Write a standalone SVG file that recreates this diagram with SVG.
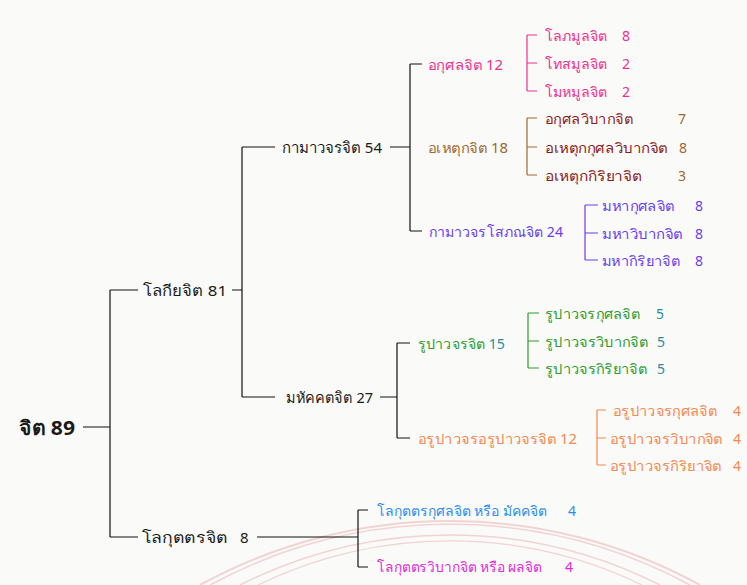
<svg xmlns="http://www.w3.org/2000/svg" width="747" height="585" viewBox="0 0 747 585">
<style>
text{font-family:Tahoma,"Noto Sans","DejaVu Sans",sans-serif;font-size:14px;dominant-baseline:central}
.b{font-size:15px}
.k{fill:#1a1a1a}
.pk{fill:#ef2f8c}
.br{fill:#a0692e}
.dr{fill:#8b1a1a}
.pu{fill:#6a3cf0}
.gr{fill:#2e9b2e}
.tl{fill:#2e8b9b}
.or{fill:#f5874f}
.bl{fill:#2b8cf0}
.mg{fill:#e02ad6}
.ln{fill:none;stroke:#111;stroke-width:1.2}
</style>
<rect width="747" height="585" fill="#fafbf9"/>
<g id="watermark" fill="none" stroke="#eec3c3" opacity="0.7">
<path d="M200 585 A520 520 0 0 1 700 585" stroke-width="2"/>
<path d="M210 585 A505 505 0 0 1 690 585" stroke-width="1.5"/>
<path d="M240 585 A465 465 0 0 1 660 585" stroke-width="1.5"/>
<path d="M258 585 A440 440 0 0 1 642 585" stroke-width="1.2"/>
</g>
<g id="connectors">
<path class="ln" d="M83 427H110M110 290V537M110 290H138M110 537H138" stroke-width="2.4"/>
<path class="ln" d="M232 290H242M242 147V397M242 147H275M242 397H275"/>
<path class="ln" d="M390 147H410M410 64V231M410 64H422M410 231H422"/>
<path class="ln" d="M380 397H397M397 343V438M397 343H410M397 438H410" stroke="#555"/>
<path fill="none" stroke="#ef2f8c" stroke-width="1.2" d="M527 35V91M527 35H537M527 63H537M527 91H537"/>
<path fill="none" stroke="#a0692e" stroke-width="1.2" d="M527 118V175M527 118H537M527 147H537M527 175H537"/>
<path fill="none" stroke="#6a3cf0" stroke-width="1.2" d="M585 205V260M585 205H598M585 233H598M585 260H598"/>
<path fill="none" stroke="#2e9b2e" stroke-width="1.2" d="M528 313V368M528 313H539M528 341H539M528 368H539"/>
<path fill="none" stroke="#f5874f" stroke-width="1.2" d="M597 410V465M597 410H606M597 438H606M597 465H606"/>
<path class="ln" d="M257 537H358M358 510V567M358 510H368M358 567H368"/>
</g>
<g id="n-root"><text x="19" y="427" class="k" style="font-size:20px;font-weight:bold" textLength="56" lengthAdjust="spacingAndGlyphs">จิต 89</text></g>
<g id="n-lokiya"><text x="143" y="290" class="k b" textLength="84" lengthAdjust="spacingAndGlyphs">โลกียจิต 81</text></g>
<g id="n-kama"><text x="282" y="147" class="k b" textLength="100" lengthAdjust="spacingAndGlyphs">กามาวจรจิต 54</text></g>
<g id="n-mahaggata"><text x="286" y="397" class="k b" textLength="87" lengthAdjust="spacingAndGlyphs">มหัคคตจิต 27</text></g>
<g id="n-lokuttara"><text x="142" y="537" class="k b" textLength="86" lengthAdjust="spacingAndGlyphs">โลกุตตรจิต</text><text x="240" y="537" class="k b">8</text></g>
<g id="n-akusala"><text x="428" y="64" class="pk" textLength="75" lengthAdjust="spacingAndGlyphs">อกุศลจิต 12</text></g>
<g id="n-lobha"><text x="545" y="35" class="pk" textLength="62" lengthAdjust="spacingAndGlyphs">โลภมูลจิต</text><text x="622" y="35" class="pk">8</text></g>
<g id="n-dosa"><text x="545" y="63" class="pk" textLength="62" lengthAdjust="spacingAndGlyphs">โทสมูลจิต</text><text x="622" y="63" class="pk">2</text></g>
<g id="n-moha"><text x="545" y="91" class="pk" textLength="62" lengthAdjust="spacingAndGlyphs">โมหมูลจิต</text><text x="622" y="91" class="pk">2</text></g>
<g id="n-ahetuka"><text x="428" y="147" class="br" textLength="80" lengthAdjust="spacingAndGlyphs">อเหตุกจิต 18</text></g>
<g id="n-akv"><text x="545" y="118" class="dr" textLength="88" lengthAdjust="spacingAndGlyphs">อกุศลวิบากจิต</text><text x="678" y="118" class="br">7</text></g>
<g id="n-ahkv"><text x="545" y="147" class="dr" textLength="123" lengthAdjust="spacingAndGlyphs">อเหตุกกุศลวิบากจิต</text><text x="679" y="147" class="br">8</text></g>
<g id="n-ahkr"><text x="545" y="175" class="dr" textLength="97" lengthAdjust="spacingAndGlyphs">อเหตุกกิริยาจิต</text><text x="678" y="175" class="br">3</text></g>
<g id="n-sobhana"><text x="429" y="231" class="pu" textLength="134" lengthAdjust="spacingAndGlyphs">กามาวจรโสภณจิต 24</text></g>
<g id="n-mk"><text x="602" y="205" class="pu" textLength="73" lengthAdjust="spacingAndGlyphs">มหากุศลจิต</text><text x="695" y="205" class="pu">8</text></g>
<g id="n-mv"><text x="602" y="233" class="pu" textLength="81" lengthAdjust="spacingAndGlyphs">มหาวิบากจิต</text><text x="695" y="233" class="pu">8</text></g>
<g id="n-mkr"><text x="602" y="260" class="pu" textLength="78" lengthAdjust="spacingAndGlyphs">มหากิริยาจิต</text><text x="695" y="260" class="pu">8</text></g>
<g id="n-rupa"><text x="418" y="343" class="gr" textLength="87" lengthAdjust="spacingAndGlyphs">รูปาวจรจิต <tspan class="tl">15</tspan></text></g>
<g id="n-rk"><text x="545" y="313" class="gr" textLength="95" lengthAdjust="spacingAndGlyphs">รูปาวจรกุศลจิต</text><text x="656" y="313" class="tl">5</text></g>
<g id="n-rv"><text x="545" y="341" class="gr" textLength="103" lengthAdjust="spacingAndGlyphs">รูปาวจรวิบากจิต</text><text x="657" y="341" class="tl">5</text></g>
<g id="n-rkr"><text x="545" y="368" class="gr" textLength="102" lengthAdjust="spacingAndGlyphs">รูปาวจรกิริยาจิต</text><text x="657" y="368" class="tl">5</text></g>
<g id="n-arupa"><text x="418" y="438" class="or" textLength="159" lengthAdjust="spacingAndGlyphs">อรูปาวจรอรูปาวจรจิต 12</text></g>
<g id="n-ark"><text x="613" y="410" class="or" textLength="104" lengthAdjust="spacingAndGlyphs">อรูปาวจรกุศลจิต</text><text x="733" y="410" class="or">4</text></g>
<g id="n-arv"><text x="610" y="438" class="or" textLength="113" lengthAdjust="spacingAndGlyphs">อรูปาวจรวิบากจิต</text><text x="733" y="438" class="or">4</text></g>
<g id="n-arkr"><text x="610" y="465" class="or" textLength="112" lengthAdjust="spacingAndGlyphs">อรูปาวจรกิริยาจิต</text><text x="733" y="465" class="or">4</text></g>
<g id="n-magga"><text x="377" y="510" class="bl" textLength="170" lengthAdjust="spacingAndGlyphs">โลกุตตรกุศลจิต หรือ มัคคจิต</text><text x="568" y="510" class="bl">4</text></g>
<g id="n-phala"><text x="377" y="566" class="mg" textLength="165" lengthAdjust="spacingAndGlyphs">โลกุตตรวิบากจิต หรือ ผลจิต</text><text x="565" y="566" class="mg">4</text></g>
</svg>
